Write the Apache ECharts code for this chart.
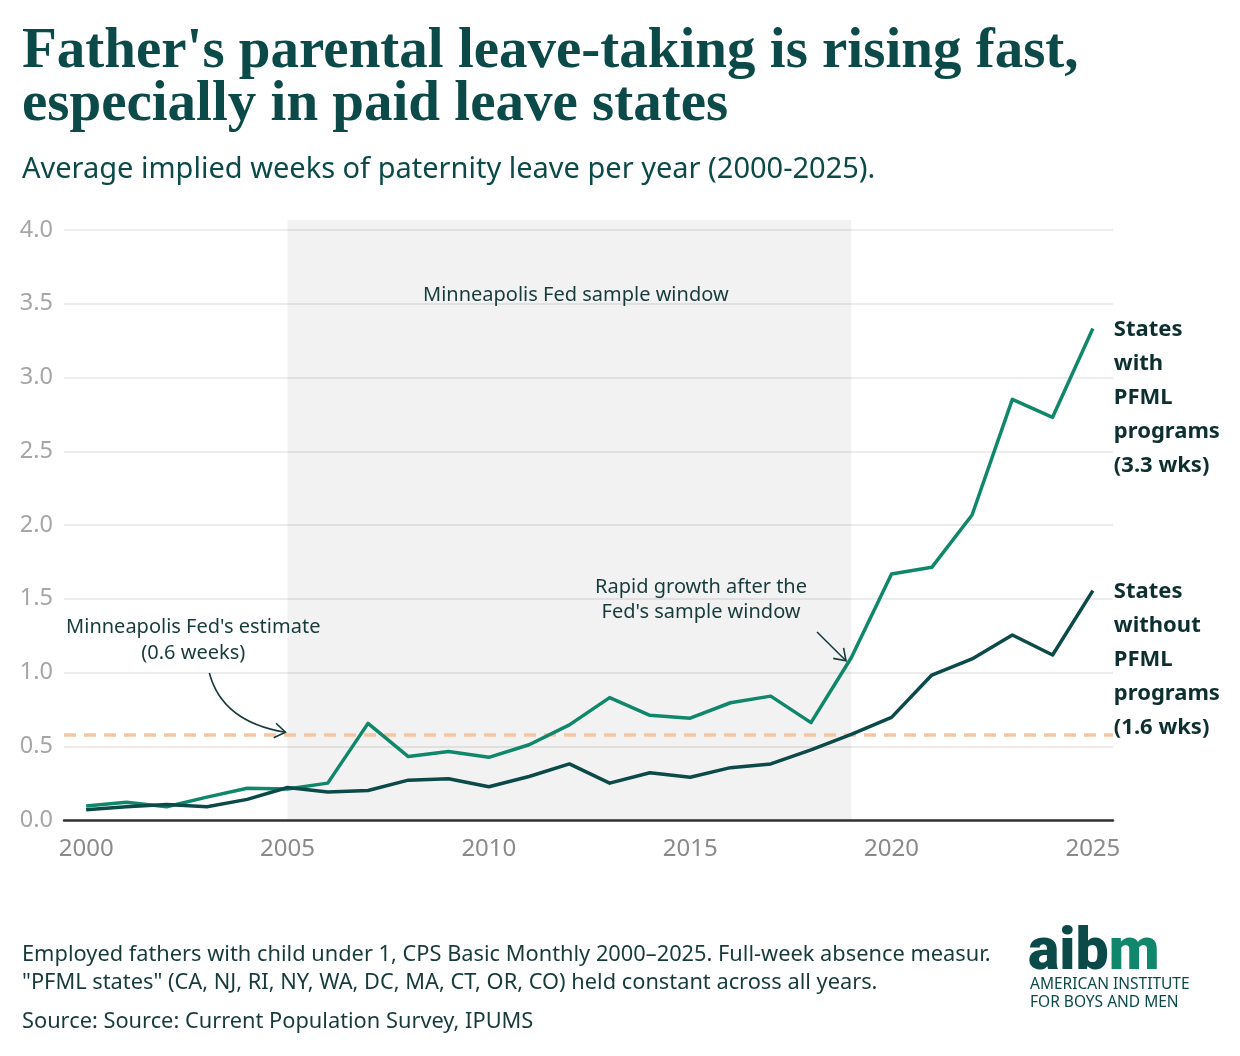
<!DOCTYPE html>
<html>
<head>
<meta charset="utf-8">
<title>Father's parental leave-taking</title>
<script src="https://cdn.jsdelivr.net/npm/echarts@6/dist/echarts.min.js"></script>
<style>
  html, body { margin: 0; padding: 0; background: #fff; }
  #chart { width: 1240px; height: 1056px; }
</style>
</head>
<body>
<div id="chart"></div>
<script>
// ==================== 数据 ====================

const years = [2000, 2001, 2002, 2003, 2004, 2005, 2006, 2007, 2008, 2009, 2010, 2011, 2012,
  2013, 2014, 2015, 2016, 2017, 2018, 2019, 2020, 2021, 2022, 2023, 2024, 2025];

// States with PFML programs
const pfmlWeeks = [0.095, 0.12, 0.09, 0.155, 0.215, 0.21, 0.25, 0.655, 0.43, 0.465, 0.425, 0.51, 0.645,
  0.83, 0.71, 0.69, 0.795, 0.84, 0.66, 1.10, 1.668, 1.713, 2.068, 2.852, 2.73, 3.333];

// States without PFML programs
const nonPfmlWeeks = [0.07, 0.09, 0.105, 0.09, 0.14, 0.22, 0.19, 0.20, 0.27, 0.28, 0.225, 0.295, 0.38,
  0.25, 0.32, 0.29, 0.355, 0.38, 0.475, 0.58, 0.696, 0.983, 1.092, 1.254, 1.119, 1.555];

const fedEstimate = 0.585;
const sampleWindow = [2005, 2019];
const xTickYears = [2000, 2005, 2010, 2015, 2020, 2025];

const pfmlLabel = 'States\nwith\nPFML\nprograms\n(3.3 wks)';
const nonPfmlLabel = 'States\nwithout\nPFML\nprograms\n(1.6 wks)';

// ==================== 样式 ====================

const DARK = '#0b4a49';
const GREEN = '#10876a';
const INK = '#173b3b';
const SANS = '"Noto Sans", "Open Sans", sans-serif';

function pairs(values) {
  return years.map((y, i) => [y, values[i]]);
}

function isHalfStep(v) {
  return Math.abs(v * 2 - Math.round(v * 2)) < 1e-6;
}

// ==================== 图表 ====================

const chart = echarts.init(document.getElementById('chart'), null, { renderer: 'canvas' });

const option = {
  backgroundColor: '#ffffff',
  animation: false,
  title: [
    {
      text: "Father's parental leave-taking is rising fast,\nespecially in paid leave states",
      left: 17, top: 21,
      textStyle: {
        fontFamily: '"Liberation Serif", serif', fontWeight: 'bold',
        fontSize: 57, lineHeight: 53, color: DARK
      }
    },
    {
      text: 'Average implied weeks of paternity leave per year (2000-2025).',
      left: 17, top: 150,
      textStyle: { fontFamily: SANS, fontWeight: 'normal', fontSize: 29, color: DARK }
    },
    {
      text: 'Employed fathers with child under 1, CPS Basic Monthly 2000\u20132025. Full-week absence measur.\n"PFML states" (CA, NJ, RI, NY, WA, DC, MA, CT, OR, CO) held constant across all years.',
      left: 17, top: 936,
      textStyle: { fontFamily: SANS, fontWeight: 'normal', fontSize: 21.8, lineHeight: 28, color: INK }
    },
    {
      text: 'Source: Source: Current Population Survey, IPUMS',
      left: 17, top: 1006,
      textStyle: { fontFamily: SANS, fontWeight: 'normal', fontSize: 21.8, color: INK }
    }
  ],
  grid: { left: 64, right: 127, top: 220, bottom: 236, containLabel: false },
  xAxis: {
    type: 'value',
    min: 1999.45,
    max: 2025.5,
    splitLine: { show: false },
    axisTick: { show: false },
    axisLine: { show: true, onZero: false, lineStyle: { color: '#333333', width: 2.5 } },
    axisLabel: {
      customValues: xTickYears,
      formatter: v => String(v),
      color: '#8a8a8a', fontFamily: SANS, fontSize: 24, margin: 17
    }
  },
  yAxis: {
    type: 'value',
    min: 0,
    max: 4.068,
    interval: 0.5,
    axisLine: { show: false },
    axisTick: { show: false },
    splitLine: { show: true, showMaxLine: false, lineStyle: { color: '#e6e6e6', width: 1.5 } },
    axisLabel: {
      formatter: v => (isHalfStep(v) ? v.toFixed(1) : ''),
      color: '#a6a6a6', fontFamily: SANS, fontSize: 23.5, margin: 11
    }
  },
  series: [
    {
      name: 'States without PFML programs',
      type: 'line',
      data: pairs(nonPfmlWeeks),
      symbol: 'none',
      lineStyle: { color: DARK, width: 3.5, join: 'round' },
      itemStyle: { color: DARK },
      z: 4,
      endLabel: {
        show: true,
        formatter: nonPfmlLabel,
        distance: 21,
        align: 'left',
        verticalAlign: 'top',
        offset: [0, -16],
        color: '#0d2f30', fontFamily: SANS, fontWeight: 'bold', fontSize: 22, lineHeight: 34
      },
      markArea: {
        silent: true,
        itemStyle: { color: 'rgba(0,0,0,0.05)' },
        data: [[{ xAxis: sampleWindow[0] }, { xAxis: sampleWindow[1] }]]
      }
    },
    {
      name: 'States with PFML programs',
      type: 'line',
      data: pairs(pfmlWeeks),
      symbol: 'none',
      lineStyle: { color: GREEN, width: 3.5, join: 'round' },
      itemStyle: { color: GREEN },
      z: 3,
      endLabel: {
        show: true,
        formatter: pfmlLabel,
        distance: 21,
        align: 'left',
        verticalAlign: 'top',
        offset: [0, -16],
        color: '#0d2f30', fontFamily: SANS, fontWeight: 'bold', fontSize: 22, lineHeight: 34
      },
      markLine: {
        silent: true,
        symbol: ['none', 'none'],
        label: { show: false },
        lineStyle: { color: '#f6c6a2', type: [12, 8], width: 3.5 },
        z: 1,
        data: [{ yAxis: fedEstimate }]
      }
    }
  ]
};

chart.setOption(option);

// ==================== 注释 ====================

function px(x, y) {
  return chart.convertToPixel({ gridIndex: 0 }, [x, y]);
}

// 开口箭头
function chevron(tip, from, len) {
  const ang = Math.atan2(tip[1] - from[1], tip[0] - from[0]);
  const a1 = ang + Math.PI - 0.6;
  const a2 = ang + Math.PI + 0.6;
  return {
    type: 'polyline',
    shape: {
      points: [
        [tip[0] + len * Math.cos(a1), tip[1] + len * Math.sin(a1)],
        tip,
        [tip[0] + len * Math.cos(a2), tip[1] + len * Math.sin(a2)]
      ]
    },
    style: { stroke: INK, lineWidth: 1.6, fill: null },
    z: 10
  };
}

function noteText(pos, text, lineHeight) {
  return {
    type: 'text',
    x: pos[0], y: pos[1],
    style: {
      text: text, fill: INK, font: '20px ' + SANS,
      align: 'center', verticalAlign: 'middle', lineHeight: lineHeight
    },
    z: 10
  };
}

function buildAnnotations() {
  const g = [];

  g.push(noteText(px(2012.16, 3.56), 'Minneapolis Fed sample window', 24));
  g.push(noteText(px(2002.66, 1.22), "Minneapolis Fed's estimate\n(0.6 weeks)", 26));
  g.push(noteText(px(2015.27, 1.495), "Rapid growth after the\nFed's sample window", 25));

  // curved arrow to the fed estimate line
  const s1 = px(2003.06, 0.997);
  const c1 = px(2003.38, 0.665);
  const t1 = px(2004.95, 0.595);
  g.push({
    type: 'bezierCurve',
    shape: { x1: s1[0], y1: s1[1], cpx1: c1[0], cpy1: c1[1], x2: t1[0], y2: t1[1] },
    style: { stroke: INK, lineWidth: 1.6, fill: null },
    z: 10
  });
  g.push(chevron(t1, c1, 13));

  // straight arrow to the 2019 take-off
  const s2 = px(2018.15, 1.275);
  const t2 = px(2018.87, 1.08);
  g.push({
    type: 'line',
    shape: { x1: s2[0], y1: s2[1], x2: t2[0], y2: t2[1] },
    style: { stroke: INK, lineWidth: 1.6 },
    z: 10
  });
  g.push(chevron(t2, s2, 13));

  // logo
  g.push({
    type: 'text',
    left: 1028, top: 925,
    style: {
      text: '{d|aib}{g|m}',
      rich: {
        d: { fill: DARK, font: '900 59px Roboto, "Noto Sans", sans-serif' },
        g: { fill: GREEN, font: '900 59px Roboto, "Noto Sans", sans-serif' }
      }
    },
    z: 10
  });
  g.push({
    type: 'text',
    left: 1030, top: 976,
    style: {
      text: 'AMERICAN INSTITUTE\nFOR BOYS AND MEN',
      fill: DARK, font: '15.5px ' + SANS, lineHeight: 17.5
    },
    z: 10
  });

  return g;
}

chart.setOption({ graphic: buildAnnotations() });

window.addEventListener('resize', () => chart.resize());
</script>
</body>
</html>
